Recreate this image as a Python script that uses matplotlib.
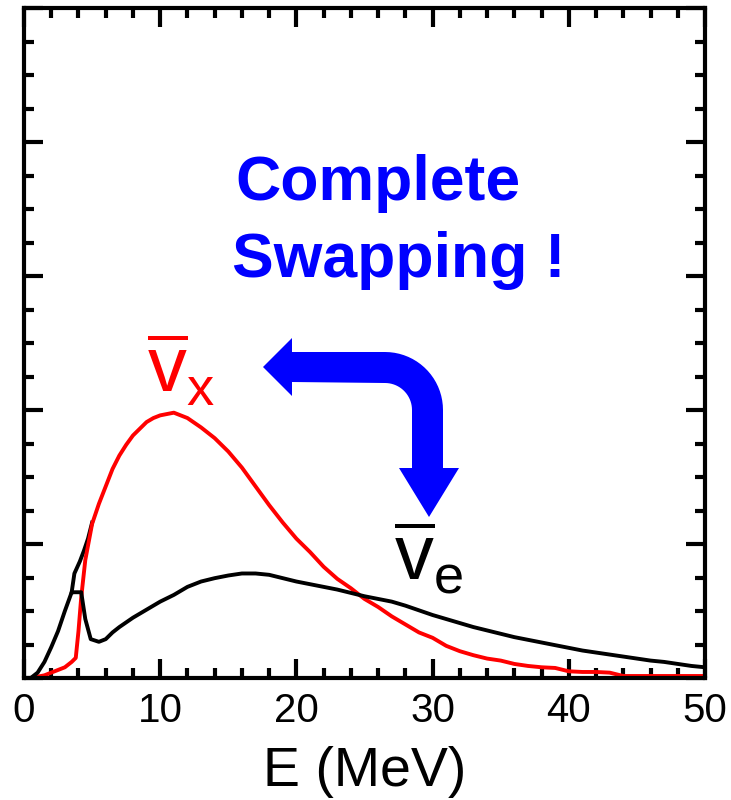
import numpy as np
import matplotlib
matplotlib.use("Agg")
import matplotlib.pyplot as plt
from matplotlib.patches import Polygon
from matplotlib.ticker import MultipleLocator

plt.rcParams['font.family'] = ['Liberation Sans', 'DejaVu Sans']
plt.rcParams['mathtext.fontset'] = 'custom'
plt.rcParams['mathtext.rm'] = 'Liberation Sans'

# anti-nu_x after swapping (red)
red_E = [0.5, 1.0, 1.5, 2.0, 2.5, 3.0, 3.5, 3.8, 4.0, 4.2, 4.5, 5.0, 5.5, 6.0, 6.5, 7.0, 7.5,
         8.0, 8.5, 9.0, 9.5, 10, 11, 12, 13, 14, 15, 16, 17, 18, 19, 20, 21, 22, 23, 24,
         25, 26, 27, 28, 29, 30, 31, 32, 33, 34, 35, 36, 37, 38, 39, 40, 41, 42, 43, 44, 50]
red_y = [0.0, 0.01, 0.02, 0.04, 0.06, 0.08, 0.12, 0.15, 0.35, 0.60, 0.88, 1.15, 1.30, 1.43,
         1.56, 1.66, 1.74, 1.81, 1.86, 1.91, 1.94, 1.96, 1.98, 1.94, 1.87, 1.79, 1.69, 1.57,
         1.43, 1.29, 1.16, 1.04, 0.94, 0.83, 0.74, 0.67, 0.59, 0.53, 0.46, 0.40, 0.34, 0.30,
         0.24, 0.20, 0.17, 0.145, 0.13, 0.105, 0.09, 0.08, 0.075, 0.05, 0.045, 0.045, 0.04,
         0.015, 0.015]

# anti-nu_e after swapping (black)
blk_E = [0.5, 1.0, 1.5, 2.0, 2.5, 3.0, 3.5, 4.2, 4.5, 4.9, 5.5, 6.0, 6.5, 7.0, 8, 9, 10, 11,
         12, 13, 14, 15, 16, 17, 18, 19, 20, 21, 22, 23, 24, 25, 26, 27, 28, 29, 30, 31, 32,
         33, 34, 35, 36, 37, 38, 39, 40, 41, 42, 43, 44, 45, 46, 47, 48, 49, 50]
blk_y = [0.0, 0.04, 0.12, 0.23, 0.35, 0.50, 0.64, 0.64, 0.44, 0.29, 0.27, 0.29, 0.34, 0.38,
         0.45, 0.51, 0.57, 0.62, 0.68, 0.72, 0.745, 0.765, 0.78, 0.78, 0.77, 0.745, 0.72,
         0.70, 0.68, 0.66, 0.635, 0.61, 0.59, 0.57, 0.54, 0.505, 0.47, 0.44, 0.41, 0.38,
         0.355, 0.33, 0.305, 0.285, 0.265, 0.245, 0.225, 0.205, 0.19, 0.175, 0.16, 0.145,
         0.13, 0.12, 0.105, 0.09, 0.08]

# unswapped low-energy branch of anti-nu_e (mostly hidden under red)
blk2_E = [3.5, 3.7, 4.1, 4.4, 4.7, 5.0]
blk2_y = [0.64, 0.78, 0.87, 0.95, 1.04, 1.16]

W, H = 731, 800
fig = plt.figure(figsize=(W / 100, H / 100), dpi=100)
ax = fig.add_axes([24 / W, 1 - 678 / H, (705 - 24) / W, (678 - 8) / H])

ax.plot(blk2_E, blk2_y, color='black', lw=2.8)
ax.plot(red_E, red_y, color='#ff0000', lw=2.8)
ax.plot(blk_E, blk_y, color='black', lw=2.8)

ax.set_xlim(0, 50)
ax.set_ylim(0, 5)
ax.xaxis.set_major_locator(MultipleLocator(10))
ax.xaxis.set_minor_locator(MultipleLocator(2))
ax.yaxis.set_major_locator(MultipleLocator(1))
ax.yaxis.set_minor_locator(MultipleLocator(0.25))
ax.tick_params(which='both', direction='in', top=True, right=True, width=3, color='black')
ax.tick_params(which='major', length=14)
ax.tick_params(which='minor', length=7)
ax.tick_params(axis='x', labelsize=29, pad=10)
ax.tick_params(axis='y', labelleft=False)
for sp in ax.spines.values():
    sp.set_linewidth(3)

ax.set_xlabel('E (MeV)', fontsize=40)
ax.xaxis.set_label_coords(0.5, -0.161)
ax.xaxis.label.set_va('baseline')

# labels of the curves
fig.text(147 / W, 1 - 393 / H, r'$\overline{\mathregular{v}}_{\mathregular{x}}$',
         color='#ff0000', fontsize=56, ha='left', va='baseline')
fig.text(394 / W, 1 - 581 / H, r'$\overline{\mathregular{v}}_{\mathregular{e}}$',
         color='black', fontsize=56, ha='left', va='baseline')

fig.text(235 / W, 1 - 200 / H, 'Complete', color='#0000ff', fontsize=45,
         fontweight='bold', ha='left', va='baseline')
fig.text(232 / W, 1 - 277 / H, 'Swapping !', color='#0000ff', fontsize=45,
         fontweight='bold', ha='left', va='baseline')

# bent blue arrow, pixel coordinates
cx, cy, r_out, r_in = 385, 410, 58, 27
a = np.linspace(np.pi / 2, 0, 20)
outer = [(cx + r_out * np.cos(t), cy - r_out * np.sin(t)) for t in a]
inner = [(cx + r_in * np.cos(t), cy - r_in * np.sin(t)) for t in a[::-1]]
pts = ([(263, 367), (292, 338), (292, 352)] + outer +
       [(443, 468), (459, 468), (429, 517), (399, 468), (412, 468)] + inner +
       [(292, 382), (292, 396)])
pts = [(x / W, 1 - y / H) for x, y in pts]
fig.patches.append(Polygon(pts, closed=True, transform=fig.transFigure,
                           facecolor='#0000ff', edgecolor='none'))

fig.savefig('out.png', dpi=100)
